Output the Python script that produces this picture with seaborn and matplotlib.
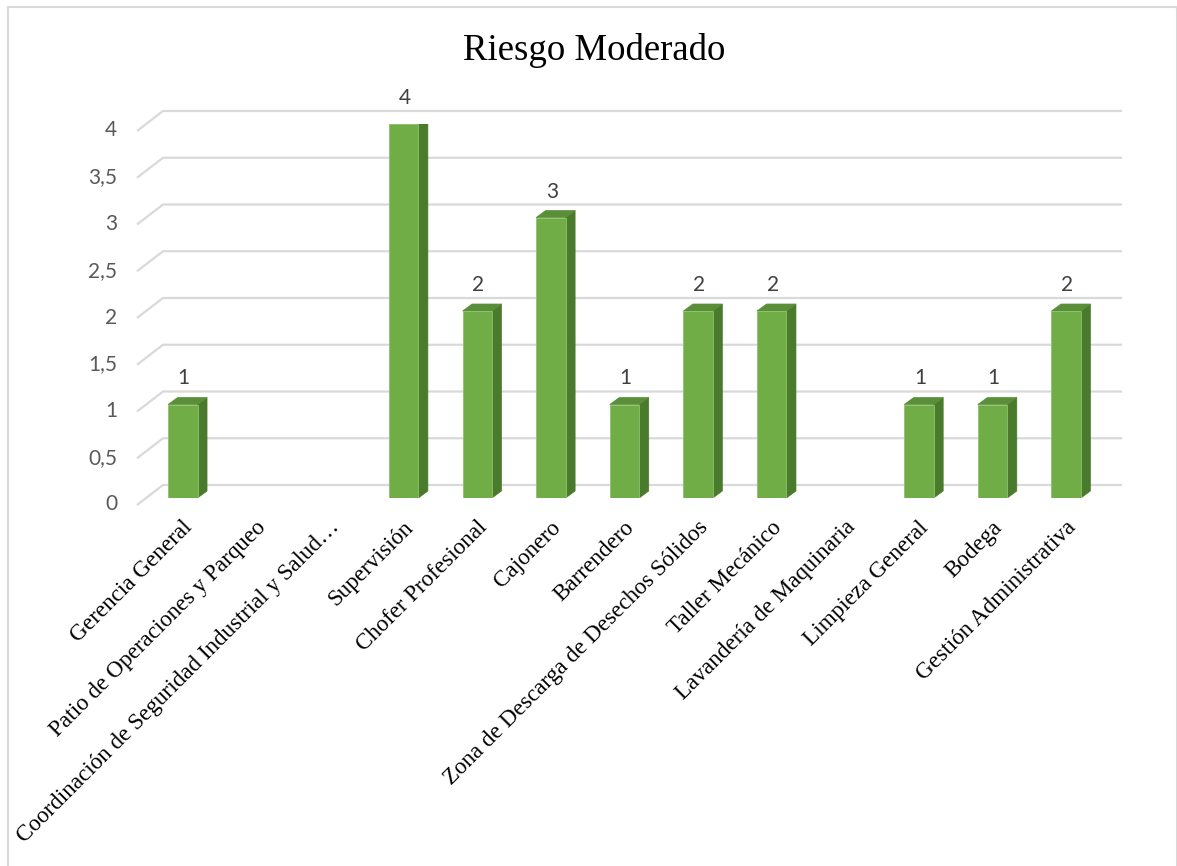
import numpy as np
import pandas as pd
import matplotlib
matplotlib.use("Agg")
import matplotlib.pyplot as plt
import seaborn as sns
from matplotlib.patches import Polygon, Rectangle

# Data
areas = [
    "Gerencia General",
    "Patio de Operaciones y Parqueo",
    "Coordinación de Seguridad Industrial y Salud…",
    "Supervisión",
    "Chofer Profesional",
    "Cajonero",
    "Barrendero",
    "Zona de Descarga de Desechos Sólidos",
    "Taller Mecánico",
    "Lavandería de Maquinaria",
    "Limpieza General",
    "Bodega",
    "Gestión Administrativa",
]
counts = [1, 0, 0, 4, 2, 3, 1, 2, 2, 0, 1, 1, 2]
y_ticks = [0, 0.5, 1, 1.5, 2, 2.5, 3, 3.5, 4]
y_tick_labels = ["0", "0,5", "1", "1,5", "2", "2,5", "3", "3,5", "4"]

df = pd.DataFrame({"area": areas, "count": counts})

sns.set_style("white")
W, H = 1177, 866
fig = plt.figure(figsize=(W / 100, H / 100), dpi=100)

# axes placed so the bar front plane matches the reference
left_px, right_px = 146, 1103
bottom_px, top_px = 498, 124
ax = fig.add_axes([left_px / W, 1 - bottom_px / H,
                   (right_px - left_px) / W, (bottom_px - top_px) / H])

front = "#70AD47"
side = "#4A7A2C"
topc = "#5B8E38"
grid_c = "#D9D9D9"

sns.barplot(data=df, x="area", y="count", color=front, width=0.4,
            saturation=1, ax=ax, zorder=3)
ax.set_xlim(-0.5, len(areas) - 0.5)
ax.set_ylim(0, 4)

# pixel -> data conversion
px_x = (len(areas)) / (right_px - left_px)
px_y = 4.0 / (bottom_px - top_px)

# 3D depth of bars (pixels)
ddx, ddy = 9.5 * px_x, 7 * px_y
for p in ax.patches:
    h = p.get_height()
    if h <= 0:
        p.set_visible(False)
        continue
    x0 = p.get_x()
    x1 = x0 + p.get_width()
    p.set_edgecolor("#8CC26A")
    p.set_linewidth(0.6)
    ax.add_patch(Polygon([(x1, 0), (x1 + ddx, ddy), (x1 + ddx, h + ddy), (x1, h)],
                         closed=True, facecolor=side, edgecolor=side, lw=0.5,
                         zorder=2.9))
    ax.add_patch(Polygon([(x0, h), (x0 + ddx, h + ddy), (x1 + ddx, h + ddy), (x1, h)],
                         closed=True, facecolor=topc, edgecolor=topc, lw=0.5,
                         zorder=2.9))
    ax.annotate(f"{int(h)}", (x0 + p.get_width() / 2, h), xytext=(1, 26),
                textcoords="offset pixels", ha="center", va="center",
                fontsize=15, color="#404040", family="Lato")

# perspective gridlines: front plane -> back plane -> right side
fx, fy = -9 * px_x, -7 * px_y
bx, by = 17 * px_x, 13 * px_y
x_left = -0.5
x_right_back = x_left + (1122 - left_px) * px_x
for v, lab in zip(y_ticks, y_tick_labels):
    ax.plot([x_left + fx, x_left + bx, x_right_back],
            [v + fy, v + by, v + by], color=grid_c, lw=1.6,
            zorder=1, clip_on=False, solid_capstyle="butt")
    ax.text(x_left + (117 - left_px) * px_x, v - 6.5 * px_y, lab, ha="right",
            va="center", fontsize=15, color="#595959", family="Lato")

ax.set_yticks([])
ax.set_xticks(range(len(areas)))
ax.set_xticklabels([])
ax.tick_params(length=0)
ax.set_xlabel("")
ax.set_ylabel("")
for s in ax.spines.values():
    s.set_visible(False)
ax.patch.set_alpha(0)

for i, name in enumerate(areas):
    ax.text(i - 1 * px_x, -19 * px_y, name, rotation=45, rotation_mode="anchor",
            ha="right", va="top", fontsize=16.7, family="Liberation Serif",
            color="black")

fig.text(594 / W, 1 - 50 / H, "Riesgo Moderado", ha="center", va="center",
         fontsize=26.5, family="Liberation Serif", color="black")

# outer chart border
fig.patches.append(Rectangle((8 / W, -0.01), (W - 8) / W, 1 - 7 / H + 0.01,
                             transform=fig.transFigure, fill=False,
                             edgecolor="#D9D9D9", lw=1.5))

fig.savefig("out.png", dpi=100)
